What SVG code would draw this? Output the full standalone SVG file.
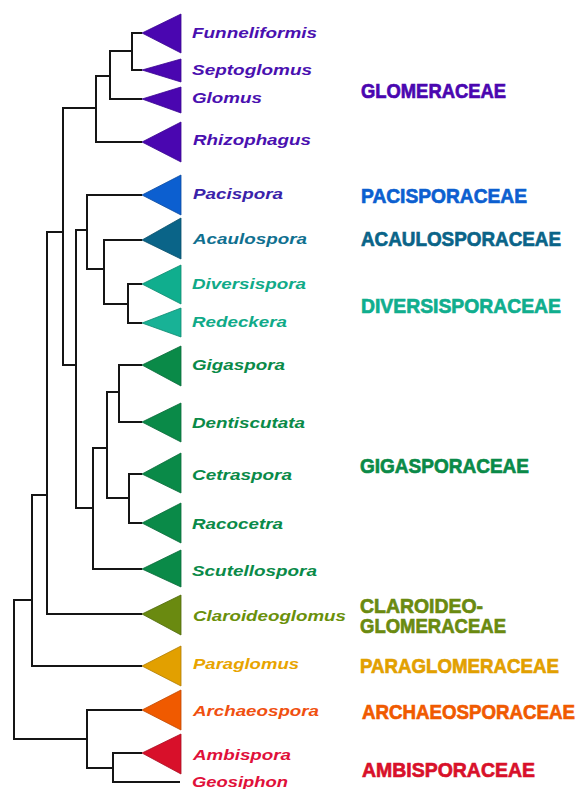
<svg xmlns="http://www.w3.org/2000/svg" width="579" height="789" viewBox="0 0 579 789">
<style>
.br{fill:none;stroke:#151515;stroke-width:2;stroke-linejoin:miter}
.tri{stroke-width:0.8}
.g{font-family:"Liberation Sans",Arial,sans-serif;font-size:14px;font-weight:bold;font-style:italic}
.f{font-family:"Liberation Sans",Arial,sans-serif;font-size:21px;font-weight:bold;stroke-width:0.7}
</style>
<rect width="579" height="789" fill="#fff"/>
<g id="connectors">
<path class="br" d="M142,33 H132 V70 H142"/>
<path class="br" d="M132,51 H110 V99 H142"/>
<path class="br" d="M110,76 H96 V142 H142"/>
<path class="br" d="M96,108 H63 V365 H76"/>
<path class="br" d="M63,232 H47 V614 H142"/>
<path class="br" d="M87,230 H76 V508 H93"/>
<path class="br" d="M142,195 H87 V269 H104"/>
<path class="br" d="M142,240 H104 V304 H128"/>
<path class="br" d="M142,284 H128 V323 H142"/>
<path class="br" d="M107,448 H93 V569 H142"/>
<path class="br" d="M119,392 H107 V498 H129"/>
<path class="br" d="M142,365 H119 V422 H142"/>
<path class="br" d="M142,474 H129 V523 H142"/>
<path class="br" d="M47,495 H32 V666 H142"/>
<path class="br" d="M32,600 H14 V739 H87"/>
<path class="br" d="M142,710 H87 V768 H113"/>
<path class="br" d="M142,753 H113 V782 H180"/>
</g>
<g id="funneliformis"><polygon class="tri" points="142,33 181,14 181,53" fill="#4a06b0" stroke="#3a0590"/><text class="g" x="192" y="38" fill="#4a10b0" textLength="125" lengthAdjust="spacingAndGlyphs">Funneliformis</text></g>
<g id="septoglomus"><polygon class="tri" points="142,70 181,59 181,82" fill="#4a06b0" stroke="#3a0590"/><text class="g" x="192" y="75" fill="#4a10b0" textLength="120" lengthAdjust="spacingAndGlyphs">Septoglomus</text></g>
<g id="glomus"><polygon class="tri" points="142,99 181,87 181,113" fill="#4a06b0" stroke="#3a0590"/><text class="g" x="192" y="103" fill="#4a10b0" textLength="70" lengthAdjust="spacingAndGlyphs">Glomus</text></g>
<g id="rhizophagus"><polygon class="tri" points="142,142 181,122 181,162" fill="#4a06b0" stroke="#3a0590"/><text class="g" x="193" y="145" fill="#4a10b0" textLength="118" lengthAdjust="spacingAndGlyphs">Rhizophagus</text></g>
<g id="pacispora"><polygon class="tri" points="142,195 181,175 181,215" fill="#0c5fd0" stroke="#0a4aa0"/><text class="g" x="193" y="199" fill="#3a22aa" textLength="90" lengthAdjust="spacingAndGlyphs">Pacispora</text></g>
<g id="acaulospora"><polygon class="tri" points="142,240 181,218 181,259" fill="#0a6488" stroke="#084e6a"/><text class="g" x="193" y="244" fill="#107090" textLength="114" lengthAdjust="spacingAndGlyphs">Acaulospora</text></g>
<g id="diversispora"><polygon class="tri" points="142,284 181,265 181,304" fill="#10ae8e" stroke="#0c8a70"/><text class="g" x="192" y="289" fill="#10aa88" textLength="114" lengthAdjust="spacingAndGlyphs">Diversispora</text></g>
<g id="redeckera"><polygon class="tri" points="142,323 181,308 181,337" fill="#18b296" stroke="#0c8a70"/><text class="g" x="192" y="327" fill="#10aa88" textLength="95" lengthAdjust="spacingAndGlyphs">Redeckera</text></g>
<g id="gigaspora"><polygon class="tri" points="142,365 181,346 181,386" fill="#0a8a48" stroke="#086a38"/><text class="g" x="192" y="370" fill="#0a8a48" textLength="93" lengthAdjust="spacingAndGlyphs">Gigaspora</text></g>
<g id="dentiscutata"><polygon class="tri" points="142,422 181,403 181,442" fill="#0a8a48" stroke="#086a38"/><text class="g" x="192" y="428" fill="#0a8a48" textLength="113" lengthAdjust="spacingAndGlyphs">Dentiscutata</text></g>
<g id="cetraspora"><polygon class="tri" points="142,474 181,453 181,493" fill="#0a8a48" stroke="#086a38"/><text class="g" x="192" y="480" fill="#0a8a48" textLength="100" lengthAdjust="spacingAndGlyphs">Cetraspora</text></g>
<g id="racocetra"><polygon class="tri" points="142,523 181,503 181,543" fill="#0a8a48" stroke="#086a38"/><text class="g" x="192" y="529" fill="#0a8a48" textLength="91" lengthAdjust="spacingAndGlyphs">Racocetra</text></g>
<g id="scutellospora"><polygon class="tri" points="142,569 181,550 181,587" fill="#0a8a48" stroke="#086a38"/><text class="g" x="192" y="576" fill="#0a8a48" textLength="125" lengthAdjust="spacingAndGlyphs">Scutellospora</text></g>
<g id="claroideoglomus"><polygon class="tri" points="142,614 181,595 181,635" fill="#6a8a10" stroke="#4e680a"/><text class="g" x="193" y="621" fill="#6a900a" textLength="153" lengthAdjust="spacingAndGlyphs">Claroideoglomus</text></g>
<g id="paraglomus"><polygon class="tri" points="142,666 181,646 181,686" fill="#e2a000" stroke="#b07c00"/><text class="g" x="193" y="669" fill="#e8a400" textLength="106" lengthAdjust="spacingAndGlyphs">Paraglomus</text></g>
<g id="archaeospora"><polygon class="tri" points="142,710 181,690 181,730" fill="#f05a00" stroke="#c04800"/><text class="g" x="193" y="716" fill="#f05010" textLength="126" lengthAdjust="spacingAndGlyphs">Archaeospora</text></g>
<g id="ambispora"><polygon class="tri" points="142,753 181,734 181,774" fill="#d8102a" stroke="#a80c20"/><text class="g" x="193" y="760" fill="#e0103a" textLength="98" lengthAdjust="spacingAndGlyphs">Ambispora</text></g>
<g id="geosiphon"><text class="g" x="192" y="787" fill="#e0103a" textLength="96" lengthAdjust="spacingAndGlyphs">Geosiphon</text></g>
<g id="families">
<text class="f" x="361" y="98" fill="#4a06b0" stroke="#4a06b0" textLength="145" lengthAdjust="spacingAndGlyphs">GLOMERACEAE</text>
<text class="f" x="361" y="203" fill="#0c5fd0" stroke="#0c5fd0" textLength="166" lengthAdjust="spacingAndGlyphs">PACISPORACEAE</text>
<text class="f" x="361" y="246" fill="#0a6488" stroke="#0a6488" textLength="200" lengthAdjust="spacingAndGlyphs">ACAULOSPORACEAE</text>
<text class="f" x="361" y="313" fill="#10ae8e" stroke="#10ae8e" textLength="200" lengthAdjust="spacingAndGlyphs">DIVERSISPORACEAE</text>
<text class="f" x="360" y="473" fill="#0a8a48" stroke="#0a8a48" textLength="169" lengthAdjust="spacingAndGlyphs">GIGASPORACEAE</text>
<text class="f" x="360" y="613" fill="#6a8a10" stroke="#6a8a10" textLength="123" lengthAdjust="spacingAndGlyphs">CLAROIDEO-</text>
<text class="f" x="360" y="633" fill="#6a8a10" stroke="#6a8a10" textLength="146" lengthAdjust="spacingAndGlyphs">GLOMERACEAE</text>
<text class="f" x="360" y="673" fill="#e2a000" stroke="#e2a000" textLength="199" lengthAdjust="spacingAndGlyphs">PARAGLOMERACEAE</text>
<text class="f" x="362" y="719" fill="#f05a00" stroke="#f05a00" textLength="213" lengthAdjust="spacingAndGlyphs">ARCHAEOSPORACEAE</text>
<text class="f" x="362" y="777" fill="#d8102a" stroke="#d8102a" textLength="173" lengthAdjust="spacingAndGlyphs">AMBISPORACEAE</text>
</g>
</svg>
